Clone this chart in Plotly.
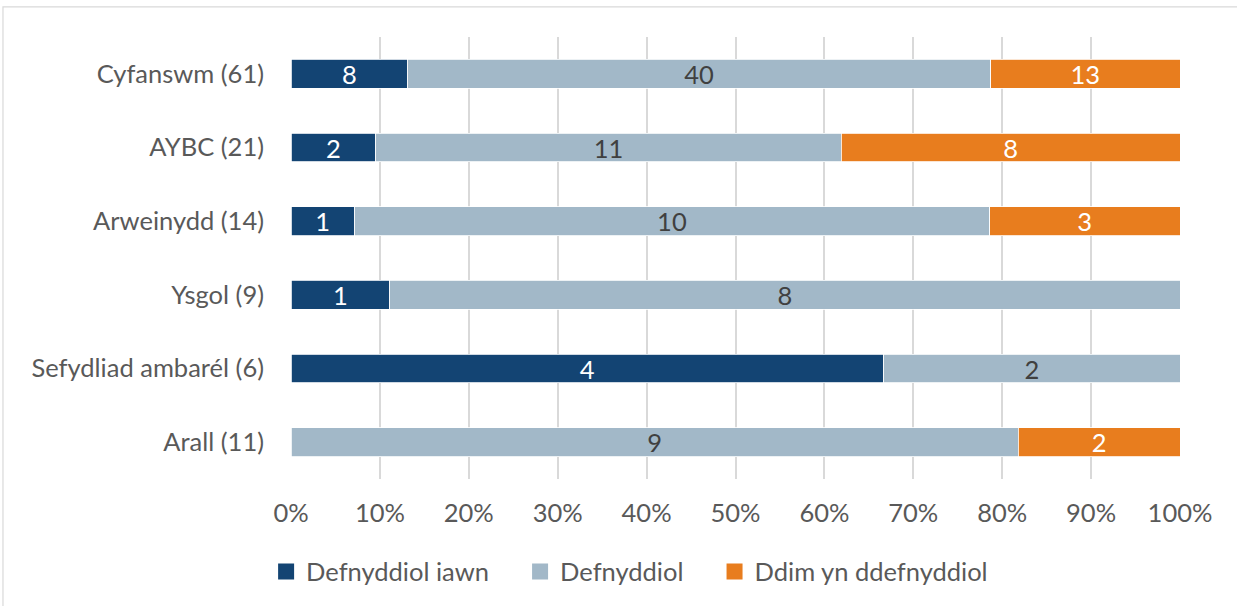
import plotly.graph_objects as go

categories = ["Cyfanswm (61)", "AYBC (21)", "Arweinydd (14)", "Ysgol (9)",
              "Sefydliad ambarél (6)", "Arall (11)"]
defnyddiol_iawn = [8, 2, 1, 1, 4, 0]
defnyddiol = [40, 11, 10, 8, 2, 9]
ddim_defnyddiol = [13, 8, 3, 0, 0, 2]
series_names = ["Defnyddiol iawn", "Defnyddiol", "Ddim yn ddefnyddiol"]
x_ticks = [0, 10, 20, 30, 40, 50, 60, 70, 80, 90, 100]
x_tick_labels = [f"{v}%" for v in x_ticks]

colors = ["#134473", "#A2B8C8", "#E87D1E"]
text_colors = ["#FFFFFF", "#404040", "#FFFFFF"]
FONT = "Lato, Calibri, Carlito, sans-serif"
FS = 25.5
PAD = "\u00a0" * 4

fig = go.Figure()
for name, vals, col, tcol in zip(series_names,
                                 [defnyddiol_iawn, defnyddiol, ddim_defnyddiol],
                                 colors, text_colors):
    fig.add_trace(go.Bar(
        y=categories, x=vals, name=name, orientation="h", showlegend=False,
        marker=dict(color=col, line=dict(color="#FFFFFF", width=0.8)),
        text=[str(v) if v else "" for v in vals],
        textposition="inside", insidetextanchor="middle", textangle=0,
        textfont=dict(color=tcol, size=FS, family=FONT),
        constraintext="none", width=0.39,
        hoverinfo="skip",
    ))
# legend entries with larger square swatches
for i, (name, col) in enumerate(zip(series_names, colors)):
    fig.add_trace(go.Scatter(
        x=[None], y=[None], mode="markers",
        name=name + (PAD if i < len(series_names) - 1 else ""),
        marker=dict(symbol="square", size=17, color=col), hoverinfo="skip",
    ))

# chart-area border
fig.add_shape(type="rect", xref="paper", yref="paper",
              x0=-0.324, x1=1.2, y0=-0.5, y1=1.068,
              line=dict(color="#D9D9D9", width=1.2), fillcolor="rgba(0,0,0,0)", layer="below")

fig.update_layout(
    barmode="stack", barnorm="percent",
    width=1237, height=606,
    margin=dict(l=291, r=57, t=37, b=127, autoexpand=False),
    plot_bgcolor="white", paper_bgcolor="white",
    font=dict(family=FONT, color="#595959", size=FS),
    showlegend=True,
    legend=dict(orientation="h", x=-0.028, xanchor="left", y=-0.21, yanchor="middle",
                font=dict(size=FS, color="#595959"), traceorder="normal",
                itemwidth=30, itemsizing="trace"),
    uniformtext=dict(mode=False),
)
fig.update_xaxes(range=[0, 100], tickvals=x_ticks, ticktext=x_tick_labels,
                 showgrid=True, gridcolor="#D9D9D9", gridwidth=1.5,
                 zeroline=False, showline=False, ticks="", automargin=False,
                 tickfont=dict(size=FS, color="#595959"), ticklabelstandoff=16)
fig.update_yaxes(categoryorder="array", categoryarray=categories[::-1],
                 showgrid=False, zeroline=False, showline=False, ticks="", automargin=False,
                 tickfont=dict(size=FS, color="#595959"), ticklabelstandoff=26)

fig.write_html("out.html", post_script="document.body.style.margin='0';",
               config={"displayModeBar": False})
